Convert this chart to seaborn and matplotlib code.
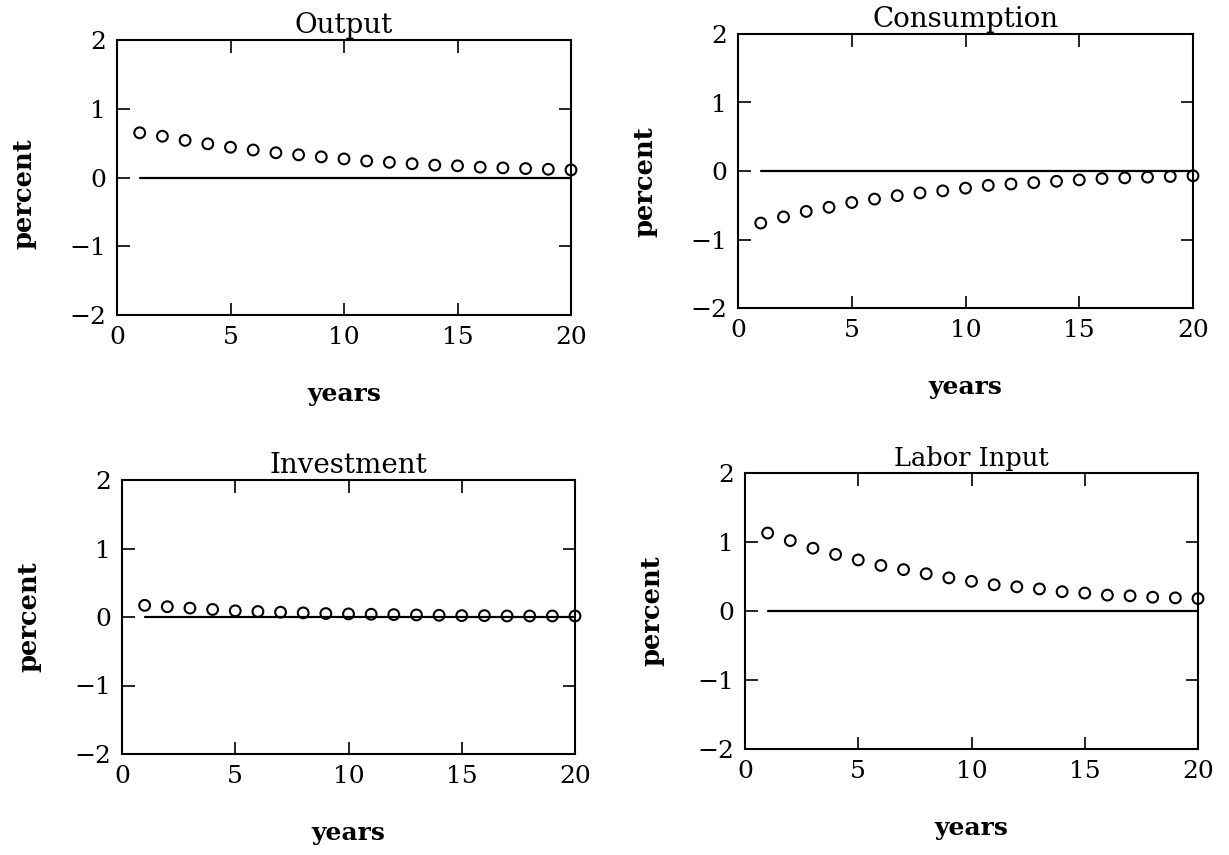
import numpy as np
import pandas as pd
import matplotlib
matplotlib.use("Agg")
import matplotlib.pyplot as plt
import seaborn as sns

years = list(range(1, 21))
output = [0.65, 0.60, 0.54, 0.49, 0.44, 0.40, 0.36, 0.33, 0.30, 0.27,
          0.24, 0.22, 0.20, 0.18, 0.17, 0.15, 0.14, 0.13, 0.12, 0.11]
consumption = [-0.76, -0.67, -0.59, -0.53, -0.46, -0.41, -0.36, -0.32, -0.29, -0.25,
               -0.21, -0.19, -0.17, -0.15, -0.13, -0.11, -0.10, -0.09, -0.08, -0.07]
investment = [0.17, 0.15, 0.13, 0.11, 0.09, 0.08, 0.07, 0.06, 0.05, 0.045,
              0.04, 0.035, 0.03, 0.025, 0.02, 0.02, 0.015, 0.015, 0.015, 0.015]
labor = [1.13, 1.02, 0.91, 0.82, 0.74, 0.66, 0.60, 0.54, 0.48, 0.43,
         0.38, 0.35, 0.32, 0.28, 0.26, 0.23, 0.22, 0.20, 0.19, 0.18]
titles = ["Output", "Consumption", "Investment", "Labor Input"]
series = [output, consumption, investment, labor]
xticks = [0, 5, 10, 15, 20]
yticks = [-2, -1, 0, 1, 2]

sns.set_theme(style="ticks")
plt.rcParams['font.family'] = ['DejaVu Serif']
plt.rcParams.update({"text.color": "black", "axes.labelcolor": "black",
                     "xtick.color": "black", "ytick.color": "black",
                     "axes.edgecolor": "black"})

W, H = 1229, 855
fig = plt.figure(figsize=(W / 100, H / 100), dpi=100)
boxes = [(117, 571, 40, 315), (738, 1193, 34, 308), (122, 575, 480, 754), (745, 1198, 473, 749)]
title_sizes = [20, 20, 20, 18.5]
ylabel_pos = [0.44, 0.46, 0.5, 0.5]

for title, vals, (l, r, t, b), tsz, yl in zip(titles, series, boxes, title_sizes, ylabel_pos):
    ax = fig.add_axes([l / W, (H - b) / H, (r - l) / W, (b - t) / H])
    df = pd.DataFrame({"years": years, "value": vals, "zero": [0.0] * len(years)})
    sns.lineplot(data=df, x="years", y="zero", ax=ax, color="black", linewidth=1.6)
    sns.scatterplot(data=df, x="years", y="value", ax=ax, marker="o", s=60,
                    facecolor="none", edgecolor="black", linewidth=1.5, zorder=3, clip_on=False)
    ax.set_xlim(0, 20)
    ax.set_ylim(-2, 2)
    ax.set_xticks(xticks)
    ax.set_yticks(yticks)
    ax.set_yticklabels(["\u22122", "\u22121", "0", "1", "2"])
    ax.tick_params(direction="in", length=9, width=1.2, top=True, right=True,
                   labelsize=18, pad=8, colors="black")
    for sp in ax.spines.values():
        sp.set_linewidth(1.5)
        sp.set_color("black")
        sp.set_visible(True)
    ax.set_title(title, fontsize=tsz, pad=5, color="black")
    ax.set_xlabel("years", fontsize=18, fontweight="bold", labelpad=24, color="black")
    ax.set_ylabel("percent", fontsize=18.5, fontweight="bold", color="black")
    ax.yaxis.set_label_coords(-0.177, yl)

fig.savefig("out.png", dpi=100)
